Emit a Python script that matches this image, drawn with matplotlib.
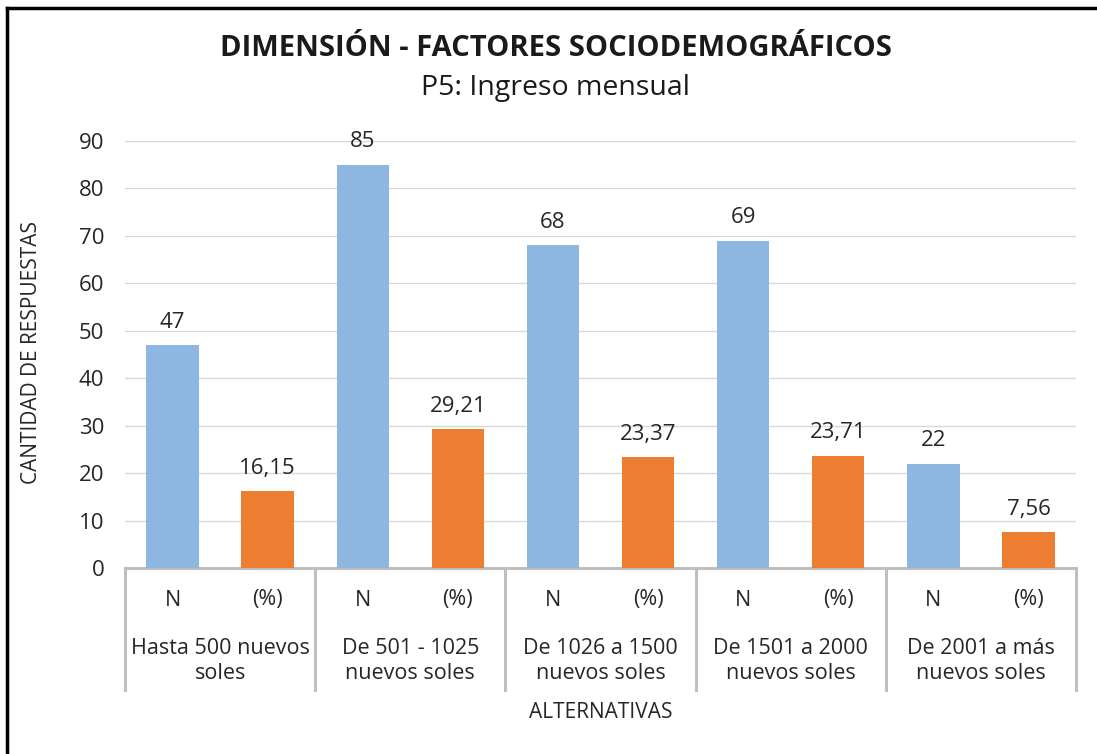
import matplotlib
matplotlib.use("Agg")
import matplotlib.pyplot as plt
from matplotlib.lines import Line2D
import numpy as np

# datos
grupos = ["Hasta 500 nuevos\nsoles", "De 501 - 1025\nnuevos soles",
          "De 1026 a 1500\nnuevos soles", "De 1501 a 2000\nnuevos soles",
          "De 2001 a más\nnuevos soles"]
sub_labels = ["N", "(%)"]
valores_n = [47, 85, 68, 69, 22]
valores_pct = [16.15, 29.21, 23.37, 23.71, 7.56]
yticks = [0, 10, 20, 30, 40, 50, 60, 70, 80, 90]

plt.rcParams['font.family'] = ['Open Sans', 'DejaVu Sans']

W, H = 1097, 754
fig = plt.figure(figsize=(W / 100, H / 100), dpi=100)
ax = fig.add_axes([125 / W, 1 - 568 / H, (1076 - 125) / W, (568 - 141) / H])

azul = "#8DB7E1"
naranja = "#ED7D31"
gris = "#BFBFBF"
texto = "#262626"

x_n = np.arange(len(grupos)) * 2
x_p = x_n + 1
ancho = 0.55
b1 = ax.bar(x_n, valores_n, ancho, color=azul, zorder=3)
b2 = ax.bar(x_p, valores_pct, ancho, color=naranja, zorder=3)

def fmt(v):
    if float(v).is_integer():
        return str(int(v))
    return f"{v:.2f}".replace(".", ",")

for bars, vals in ((b1, valores_n), (b2, valores_pct)):
    for b, v in zip(bars, vals):
        ax.annotate(fmt(v), (b.get_x() + b.get_width() / 2, b.get_height()),
                    xytext=(0, 9), textcoords="offset points",
                    ha="center", va="bottom", fontsize=16, color=texto)

ax.set_xlim(-0.5, 2 * len(grupos) - 0.5)
ax.set_ylim(0, 90)
ax.set_yticks(yticks)
ax.tick_params(axis="y", length=0, labelsize=16, labelcolor=texto, pad=15)
ax.set_xticks([])
ax.yaxis.grid(True, color="#D9D9D9", linewidth=1)
ax.set_axisbelow(True)
for s in ["top", "right", "left"]:
    ax.spines[s].set_visible(False)
ax.spines["bottom"].set_color(gris)
ax.spines["bottom"].set_linewidth(2.2)

# eje de categorias multinivel
trans = ax.get_xaxis_transform()
fondo = -(690 - 568) / (568 - 141)
for i in range(len(grupos) + 1):
    xb = 2 * i - 0.5
    ax.add_line(Line2D([xb, xb], [0, fondo], transform=trans, color=gris,
                       linewidth=2.2, clip_on=False))
y_sub = -(600 - 568) / (568 - 141)
y_grp = -(661 - 568) / (568 - 141)
for i, g in enumerate(grupos):
    for j, s in enumerate(sub_labels):
        ax.text(2 * i + j, y_sub, s, transform=trans, ha="center", va="center",
                fontsize=15.5, color=texto)
    ax.text(2 * i + 0.5, y_grp, g, transform=trans, ha="center", va="center",
            fontsize=15.5, color=texto, linespacing=1.3)

fig.text((125 + 1076) / 2 / W, 1 - 712 / H, "ALTERNATIVAS", ha="center",
         va="center", fontsize=15, color=texto)
fig.text(32 / W, 1 - 353 / H, "CANTIDAD DE RESPUESTAS", rotation=90,
         ha="center", va="center", fontsize=15, color=texto)

fig.text(556 / W, 1 - 48 / H, "DIMENSIÓN - FACTORES SOCIODEMOGRÁFICOS",
         ha="center", va="center", fontsize=21, fontweight="bold", color="#1a1a1a")
fig.text(556 / W, 1 - 88 / H, "P5: Ingreso mensual", ha="center", va="center",
         fontsize=20.5, color="#1a1a1a")

# marco
fig.add_artist(Line2D([7 / W, 7 / W], [0, 1 - 8 / H], transform=fig.transFigure,
                      color="black", linewidth=2.5))
fig.add_artist(Line2D([7 / W, 1], [1 - 8 / H, 1 - 8 / H], transform=fig.transFigure,
                      color="black", linewidth=2.5))

fig.savefig("out.png", dpi=100)
